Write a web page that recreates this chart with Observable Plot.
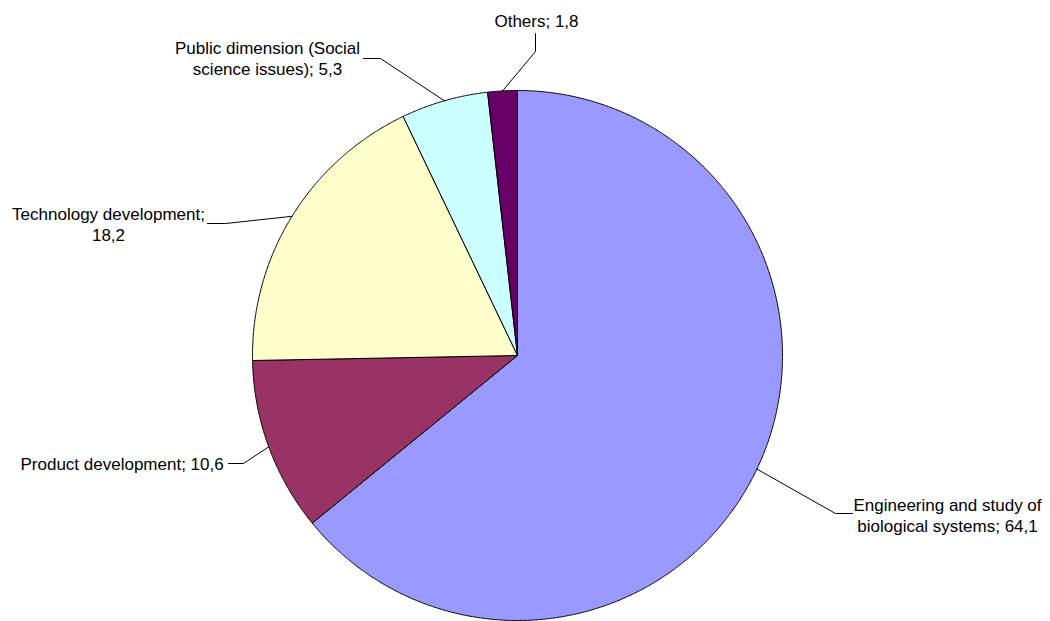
<!DOCTYPE html>
<html>
<head>
<meta charset="utf-8">
<script src="https://cdn.jsdelivr.net/npm/d3@7"></script>
<script src="https://cdn.jsdelivr.net/npm/@observablehq/plot@0.6"></script>
<style>
  html, body { margin: 0; padding: 0; background: #fff; }
  #chart { width: 1050px; height: 621px; }
</style>
</head>
<body>
<div id="chart"></div>
<script>
// ---- Data ----
const categories = [
  "Engineering and study of biological systems",
  "Product development",
  "Technology development",
  "Public dimension (Social science issues)",
  "Others"
];
const values = [64.1, 10.6, 18.2, 5.3, 1.8];
const valueLabels = ["64,1", "10,6", "18,2", "5,3", "1,8"];
const labelTexts = [
  "Engineering and study of\nbiological systems; 64,1",
  "Product development; 10,6",
  "Technology development;\n18,2",
  "Public dimension (Social\nscience issues); 5,3",
  "Others; 1,8"
];
const colors = ["#9999FF", "#993366", "#FFFFCC", "#CCFFFF", "#660066"];

// ---- Layout (pixels) ----
const W = 1050, H = 621;
const cx = 517, cy = 355, R = 265;
const layout = [
  {elbow: [835, 513], end: [852, 513], tx: 947, ty: 514, anchor: "middle"},
  {elbow: [243, 463], end: [228, 463], tx: 20, ty: 463, anchor: "start"},
  {elbow: [225, 223], end: [207, 223], tx: 108, ty: 223, anchor: "middle"},
  {elbow: [380, 58], end: [363, 58], tx: 267, ty: 57, anchor: "middle"},
  {elbow: [535, 51], end: [535, 33], tx: 536, ty: 20, anchor: "middle"}
];

const rows = categories.map((c, i) => ({cat: c, value: values[i], label: labelTexts[i], i}));
const arcs = d3.pie().sort(null).value(d => d.value).startAngle(0).endAngle(2 * Math.PI)(rows);

const pt = (a, r) => [cx + r * Math.sin(a), cy - r * Math.cos(a)];

const slicePts = [];
arcs.forEach(a => {
  slicePts.push({cat: a.data.cat, x: cx, y: cy});
  const n = Math.max(4, Math.ceil((a.endAngle - a.startAngle) / 0.005));
  for (let k = 0; k <= n; k++) {
    const ang = a.startAngle + (a.endAngle - a.startAngle) * k / n;
    const [x, y] = pt(ang, R);
    slicePts.push({cat: a.data.cat, x, y});
  }
  slicePts.push({cat: a.data.cat, x: cx, y: cy});
});

const leaderPts = [];
arcs.forEach((a, i) => {
  const mid = (a.startAngle + a.endAngle) / 2;
  const [x0, y0] = pt(mid, R);
  const L = layout[i];
  leaderPts.push({id: i, x: x0, y: y0});
  leaderPts.push({id: i, x: L.elbow[0], y: L.elbow[1]});
  leaderPts.push({id: i, x: L.end[0], y: L.end[1]});
});

const labels = rows.map((r, i) => ({text: r.label, x: layout[i].tx, y: layout[i].ty, anchor: layout[i].anchor}));

const chart = Plot.plot({
  width: W,
  height: H,
  margin: 0,
  x: {domain: [0, W], range: [0, W], axis: null},
  y: {domain: [0, H], range: [0, H], axis: null},
  color: {domain: categories, range: colors},
  style: {fontFamily: "'Liberation Sans', Arial, sans-serif", background: "#fff"},
  marks: [
    Plot.line(slicePts, {x: "x", y: "y", z: "cat", fill: "cat", stroke: "#000", strokeWidth: 1, curve: "linear", strokeLinejoin: "round"}),
    Plot.line(leaderPts, {x: "x", y: "y", z: "id", stroke: "#000", strokeWidth: 1}),
    Plot.text(labels.filter(d => d.anchor === "middle"), {x: "x", y: "y", text: "text", textAnchor: "middle", fontSize: 17, lineHeight: 1.25, fill: "#000"}),
    Plot.text(labels.filter(d => d.anchor === "start"), {x: "x", y: "y", text: "text", textAnchor: "start", fontSize: 17, lineHeight: 1.25, fill: "#000"})
  ]
});
document.getElementById("chart").appendChild(chart);
</script>
</body>
</html>
